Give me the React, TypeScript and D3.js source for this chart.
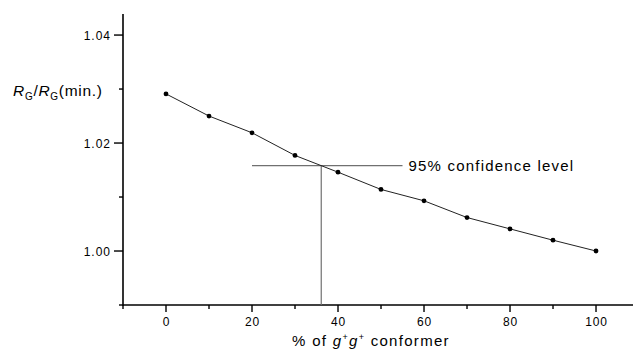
import { useEffect, useRef } from "react";
import * as d3 from "d3";

// values
const pct = [0, 10, 20, 30, 40, 50, 60, 70, 80, 90, 100];
const ratio = [1.0291, 1.025, 1.0219, 1.0177, 1.0146, 1.0114, 1.0093, 1.0062, 1.0041, 1.002, 1.0];
const xMajor = [0, 20, 40, 60, 80, 100];
const xMinor = [-10, 10, 30, 50, 70, 90];
const yMajor = [1.0, 1.02, 1.04];
const yMinor = [0.99, 1.01, 1.03];
const confLevel = 1.0158;
const confX = 36.1;
const confFrom = 20;
const confTo = 55;
const confLabel = "95% confidence level";

const W = 633;
const H = 354;
const FONT = "'Liberation Sans', Arial, sans-serif";

const App = () => {
  const ref = useRef<SVGSVGElement | null>(null);

  useEffect(() => {
    if (!ref.current) return;
    const svg = d3.select(ref.current);
    svg.selectAll("*").remove();

    const x = d3.scaleLinear().domain([-10, 108.6]).range([123, 633]);
    const y = d3.scaleLinear().domain([0.99, 1.0439]).range([305, 14]);

    // axes
    svg.append("line")
      .attr("x1", x(-10)).attr("x2", W)
      .attr("y1", y(0.99)).attr("y2", y(0.99))
      .attr("stroke", "#000").attr("stroke-width", 1.6);
    svg.append("line")
      .attr("x1", x(-10)).attr("x2", x(-10))
      .attr("y1", y(0.99) + 0.8).attr("y2", 14)
      .attr("stroke", "#000").attr("stroke-width", 1.6);

    // x ticks
    svg.selectAll(".xmaj").data(xMajor).enter().append("line")
      .attr("x1", (d) => x(d)).attr("x2", (d) => x(d))
      .attr("y1", y(0.99)).attr("y2", y(0.99) + 7)
      .attr("stroke", "#000").attr("stroke-width", 1.4);
    svg.selectAll(".xmin").data(xMinor).enter().append("line")
      .attr("x1", (d) => x(d)).attr("x2", (d) => x(d))
      .attr("y1", y(0.99)).attr("y2", y(0.99) + 4)
      .attr("stroke", "#000").attr("stroke-width", 1.4);
    svg.selectAll(".xlab").data(xMajor).enter().append("text")
      .attr("x", (d) => x(d) + 0.5).attr("y", 326)
      .attr("text-anchor", "middle")
      .style("font-family", FONT).style("font-size", "12px")
      .style("letter-spacing", "0.8px")
      .text((d) => d3.format("d")(d));

    // y ticks
    svg.selectAll(".ymaj").data(yMajor).enter().append("line")
      .attr("x1", x(-10) - 9).attr("x2", x(-10))
      .attr("y1", (d) => y(d)).attr("y2", (d) => y(d))
      .attr("stroke", "#000").attr("stroke-width", 1.4);
    svg.selectAll(".ymin").data(yMinor).enter().append("line")
      .attr("x1", x(-10) - 4).attr("x2", x(-10))
      .attr("y1", (d) => y(d)).attr("y2", (d) => y(d))
      .attr("stroke", "#000").attr("stroke-width", 1.4);
    svg.selectAll(".ylab").data(yMajor).enter().append("text")
      .attr("x", 111).attr("y", (d) => y(d) + 4.5)
      .attr("text-anchor", "end")
      .style("font-family", FONT).style("font-size", "12px")
      .style("letter-spacing", "1px")
      .text((d) => d3.format(".2f")(d));

    // y axis title
    const yt = svg.append("text")
      .attr("x", 13).attr("y", 96)
      .style("font-family", FONT).style("font-size", "15.5px")
      .style("letter-spacing", "0.7px");
    yt.append("tspan").style("font-style", "italic").text("R");
    yt.append("tspan").attr("dy", 4).style("font-size", "10px").text("G");
    yt.append("tspan").attr("dy", -4).text("/");
    yt.append("tspan").style("font-style", "italic").text("R");
    yt.append("tspan").attr("dy", 4).style("font-size", "10px").text("G");
    yt.append("tspan").attr("dy", -4).text("(min.)");

    // x axis title
    const xt = svg.append("text")
      .attr("x", 371).attr("y", 346)
      .attr("text-anchor", "middle")
      .style("font-family", FONT).style("font-size", "15px")
      .style("letter-spacing", "1.3px");
    xt.append("tspan").text("% of ");
    xt.append("tspan").style("font-style", "italic").text("g");
    xt.append("tspan").attr("dy", -6).style("font-size", "9px").text("+");
    xt.append("tspan").attr("dy", 6).style("font-style", "italic").text("g");
    xt.append("tspan").attr("dy", -6).style("font-size", "9px").text("+");
    xt.append("tspan").attr("dy", 6).text(" conformer");

    // confidence lines
    svg.append("line")
      .attr("x1", x(confFrom)).attr("x2", x(confTo))
      .attr("y1", y(confLevel)).attr("y2", y(confLevel))
      .attr("stroke", "#707070").attr("stroke-width", 1.2);
    svg.append("line")
      .attr("x1", x(confX)).attr("x2", x(confX))
      .attr("y1", y(confLevel)).attr("y2", y(0.99))
      .attr("stroke", "#707070").attr("stroke-width", 1.2);
    svg.append("text")
      .attr("x", x(confTo) + 6).attr("y", y(confLevel) + 5.5)
      .style("font-family", FONT).style("font-size", "15px")
      .style("letter-spacing", "1.2px")
      .text(confLabel);

    // data
    const pts = pct.map((p, i) => [p, ratio[i]] as [number, number]);
    svg.append("path")
      .datum(pts)
      .attr("fill", "none").attr("stroke", "#222").attr("stroke-width", 1)
      .attr("d", d3.line<[number, number]>().x((d) => x(d[0])).y((d) => y(d[1])));
    svg.selectAll(".pt").data(pts).enter().append("circle")
      .attr("cx", (d) => x(d[0])).attr("cy", (d) => y(d[1]))
      .attr("r", 2.4).attr("fill", "#000");
  }, []);

  return (
    <div style={{ position: "absolute", left: 0, top: 0 }}>
      <svg ref={ref} width={W} height={H} style={{ display: "block", background: "#fff" }} />
    </div>
  );
};

export default App;
